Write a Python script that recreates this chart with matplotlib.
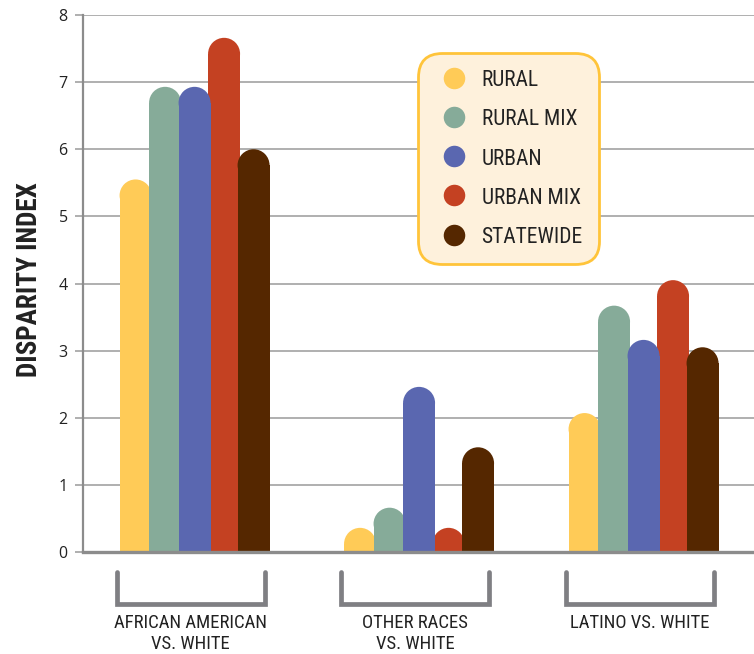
import matplotlib
matplotlib.use("Agg")
import matplotlib.pyplot as plt
from matplotlib.patches import Ellipse
from matplotlib.lines import Line2D
import matplotlib.transforms as mtransforms

groups = ["AFRICAN AMERICAN\nVS. WHITE", "OTHER RACES\nVS. WHITE", "LATINO VS. WHITE"]
series = ["RURAL", "RURAL MIX", "URBAN", "URBAN MIX", "STATEWIDE"]
rural = [5.55, 0.36, 2.07]
rural_mix = [6.93, 0.66, 3.67]
urban = [6.93, 2.46, 3.16]
urban_mix = [7.66, 0.36, 4.05]
statewide = [6.0, 1.56, 3.05]
y_ticks = [0, 1, 2, 3, 4, 5, 6, 7, 8]

values = [rural, rural_mix, urban, urban_mix, statewide]
colors = ["#FFCB57", "#86AB99", "#5A67B0", "#C44122", "#552700"]
layer = [2, 3, 4, 2.5, 3.5]

narrow = ["Roboto Condensed", "Liberation Sans", "DejaVu Sans"]
plt.rcParams["font.family"] = ["Open Sans", "DejaVu Sans"]

W, H, DPI = 7.54, 6.54, 100
fig = plt.figure(figsize=(W, H), dpi=DPI)
left, right = 83 / 754, 1.0
bottom, top = 1 - 552 / 654, 1 - 15 / 654
ax = fig.add_axes([left, bottom, right - left, top - bottom])

xmin, xmax = -0.497, 2.492
ax.set_xlim(xmin, xmax)
ax.set_ylim(0, 8)

# pixel scale of the data axes, used to keep the bar caps circular
px_x = (right - left) * W * DPI / (xmax - xmin)
px_y = (top - bottom) * H * DPI / 8.0

step = 29.5 / px_x
width = 32 / px_x
r_y = (width * px_x / 2) / px_y

for i, (vals, col) in enumerate(zip(values, colors)):
    off = (i - 2) * step
    for g, v in enumerate(vals):
        x = g + off
        ax.bar(x, v - r_y, width=width, color=col, zorder=layer[i], linewidth=0)
        ax.add_patch(Ellipse((x, v - r_y), width, 2 * r_y, color=col,
                             zorder=layer[i], linewidth=0))

# axes styling
for s in ["top", "right"]:
    ax.spines[s].set_visible(False)
ax.spines["left"].set_color("#8c8c8c")
ax.spines["left"].set_linewidth(1.6)
ax.spines["bottom"].set_color("#8c8c8c")
ax.spines["bottom"].set_linewidth(2.4)
ax.spines["bottom"].set_zorder(6)
ax.set_yticks(y_ticks)
ax.yaxis.grid(True, color="#9a9a9a", linewidth=1.1, zorder=0)
ax.set_axisbelow(True)
ax.tick_params(axis="y", length=6, width=1.1, color="#9a9a9a", pad=5,
               labelsize=11.5, labelcolor="#222222")
ax.set_xticks([])
ax.set_ylabel("DISPARITY INDEX", family=narrow, fontweight="bold",
              fontsize=19.5, color="#222222")
ax.yaxis.set_label_coords(-0.059, 0.508)

# brackets and group labels under the axis
trans = mtransforms.blended_transform_factory(ax.transData, ax.transAxes)
y_top = -(572 - 552) / (552 - 15)
y_bot = -(604 - 552) / (552 - 15)
half = 74 / px_x
shift = 4 / px_x
for g, name in enumerate(groups):
    c = g - shift
    ax.plot([c - half, c - half, c + half, c + half], [y_top, y_bot, y_bot, y_top],
            transform=trans, color="#7f7f83", linewidth=3.4, clip_on=False,
            solid_joinstyle="miter", solid_capstyle="round")
    ax.text(c, -(614 - 552) / (552 - 15), name, transform=trans, ha="center", va="top",
            family=narrow, fontsize=13.5, color="#222222", linespacing=1.2)

# legend
handles = [Line2D([], [], marker="o", linestyle="none", markersize=15.5,
                  markerfacecolor=c, markeredgewidth=0) for c in colors]
leg = ax.legend(handles, series, loc="upper left",
                bbox_to_anchor=(418 / 754, 1 - 53 / 654), bbox_transform=fig.transFigure,
                borderaxespad=0, frameon=True, fancybox=True,
                prop={"family": narrow, "size": 15.5},
                handlelength=1.8, handleheight=1.0, handletextpad=0.4,
                labelspacing=0.8, borderpad=0.75)
frame = leg.get_frame()
frame.set_facecolor("#FEF1DC")
frame.set_edgecolor("#FFC43A")
frame.set_linewidth(2.0)
frame.set_alpha(1)
frame.set_boxstyle("round", pad=0, rounding_size=1.1)
for t in leg.get_texts():
    t.set_color("#222222")
leg.set_zorder(10)

fig.savefig("out.png", dpi=DPI)
